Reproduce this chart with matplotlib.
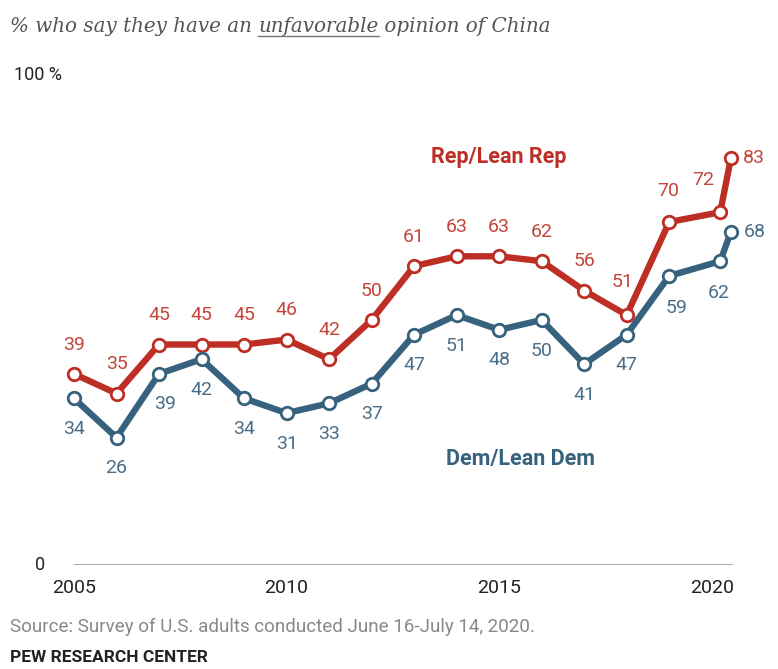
import matplotlib
matplotlib.use("Agg")
import matplotlib.pyplot as plt
from matplotlib.lines import Line2D

# survey waves (2020 had two: March and June/July)
years = [2005, 2006, 2007, 2008, 2009, 2010, 2011, 2012, 2013, 2014, 2015,
         2016, 2017, 2018, 2019, 2020.2, 2020.45]
rep = [39, 35, 45, 45, 45, 46, 42, 50, 61, 63, 63, 62, 56, 51, 70, 72, 83]
dem = [34, 26, 39, 42, 34, 31, 33, 37, 47, 51, 48, 50, 41, 47, 59, 62, 68]
xtick_years = [2005, 2010, 2015, 2020]

# label offsets in points (dx, dy) for each value label
rep_off = [(0, 21)] * 14 + [(-1, 22), (-12, 23), (16, 0)]
rep_off[13] = (-3, 24)
dem_off = [(0, -22)] * 15 + [(-1, -23), (16, 0)]
dem_off[2] = (4, -22)
dem_off[14] = (5, -23)

RED = "#bd2e24"
BLUE = "#37627e"
RED_TXT = "#c4453b"
BLUE_TXT = "#4b6e88"

W, H = 778, 669
fig = plt.figure(figsize=(W / 100, H / 100), dpi=100)
x0, x1 = 74, 733
y0, y1 = 565, 75
ax = fig.add_axes([x0 / W, (H - y0) / H, (x1 - x0) / W, (y0 - y1) / H])
ax.set_xlim(2005, 2020.5)
ax.set_ylim(0, 100)
for s in ax.spines.values():
    s.set_visible(False)
ax.set_yticks([])
ax.set_xticks(xtick_years)
ax.set_xticklabels([str(y) for y in xtick_years], fontsize=14, color="#222222",
                   family="Roboto")
ax.tick_params(axis="x", length=0, pad=10)
ax.axhline(0, color="#9a9a9a", lw=1.2, zorder=1)

for vals, col, tcol, offs in [(rep, RED, RED_TXT, rep_off), (dem, BLUE, BLUE_TXT, dem_off)]:
    ax.plot(years, vals, color=col, lw=4.6, solid_capstyle="round",
            solid_joinstyle="round", zorder=3, clip_on=False)
    ax.plot(years, vals, ls="none", marker="o", ms=9, mfc="white", mec=col,
            mew=2, zorder=4, clip_on=False)
    for x, v, (dx, dy) in zip(years, vals, offs):
        ha = "left" if dx > 10 else "center"
        ax.annotate(str(v), (x, v), xytext=(dx if ha == "center" else 9, dy),
                    textcoords="offset points", ha=ha, va="center",
                    fontsize=14, color=tcol, family="Roboto")

ax.text(2015, 83.2, "Rep/Lean Rep", color=RED, fontsize=15.5, fontweight="bold",
        ha="center", va="center", family="Roboto")
ax.text(2015.5, 21.6, "Dem/Lean Dem", color=BLUE, fontsize=15.5, fontweight="bold",
        ha="center", va="center", family="Roboto")

fig.text(45 / W, 1 - 565 / H, "0", fontsize=13, color="#222222", ha="right",
         va="center", family="Roboto")
fig.text(14 / W, 1 - 75 / H, "100 %", fontsize=13, color="#222222", ha="left",
         va="center", family="Roboto")

# subtitle with underlined word
fig.canvas.draw()
r = fig.canvas.get_renderer()
parts = ["% who say they have an ", "unfavorable", " opinion of China"]
xpos = 10 / W
ty = 1 - 27 / H
for i, p in enumerate(parts):
    t = fig.text(xpos, ty, p, fontsize=14.3, style="italic", color="#555555",
                 family="DejaVu Serif", va="center", ha="left")
    bb = t.get_window_extent(r)
    if i == 1:
        fig.add_artist(Line2D([bb.x0 / W, bb.x1 / W], [bb.y0 / H + 0.001] * 2,
                              color="#777777", lw=1, transform=fig.transFigure))
    xpos = bb.x1 / W

fig.text(10 / W, 1 - 627 / H, "Source: Survey of U.S. adults conducted June 16-July 14, 2020.",
         fontsize=13.5, color="#888888", family="Roboto", va="center")
fig.text(10 / W, 1 - 658 / H, "PEW RESEARCH CENTER", fontsize=12.5, color="#222222",
         fontweight="bold", family="Roboto", va="center")

fig.savefig("out.png", dpi=100)
